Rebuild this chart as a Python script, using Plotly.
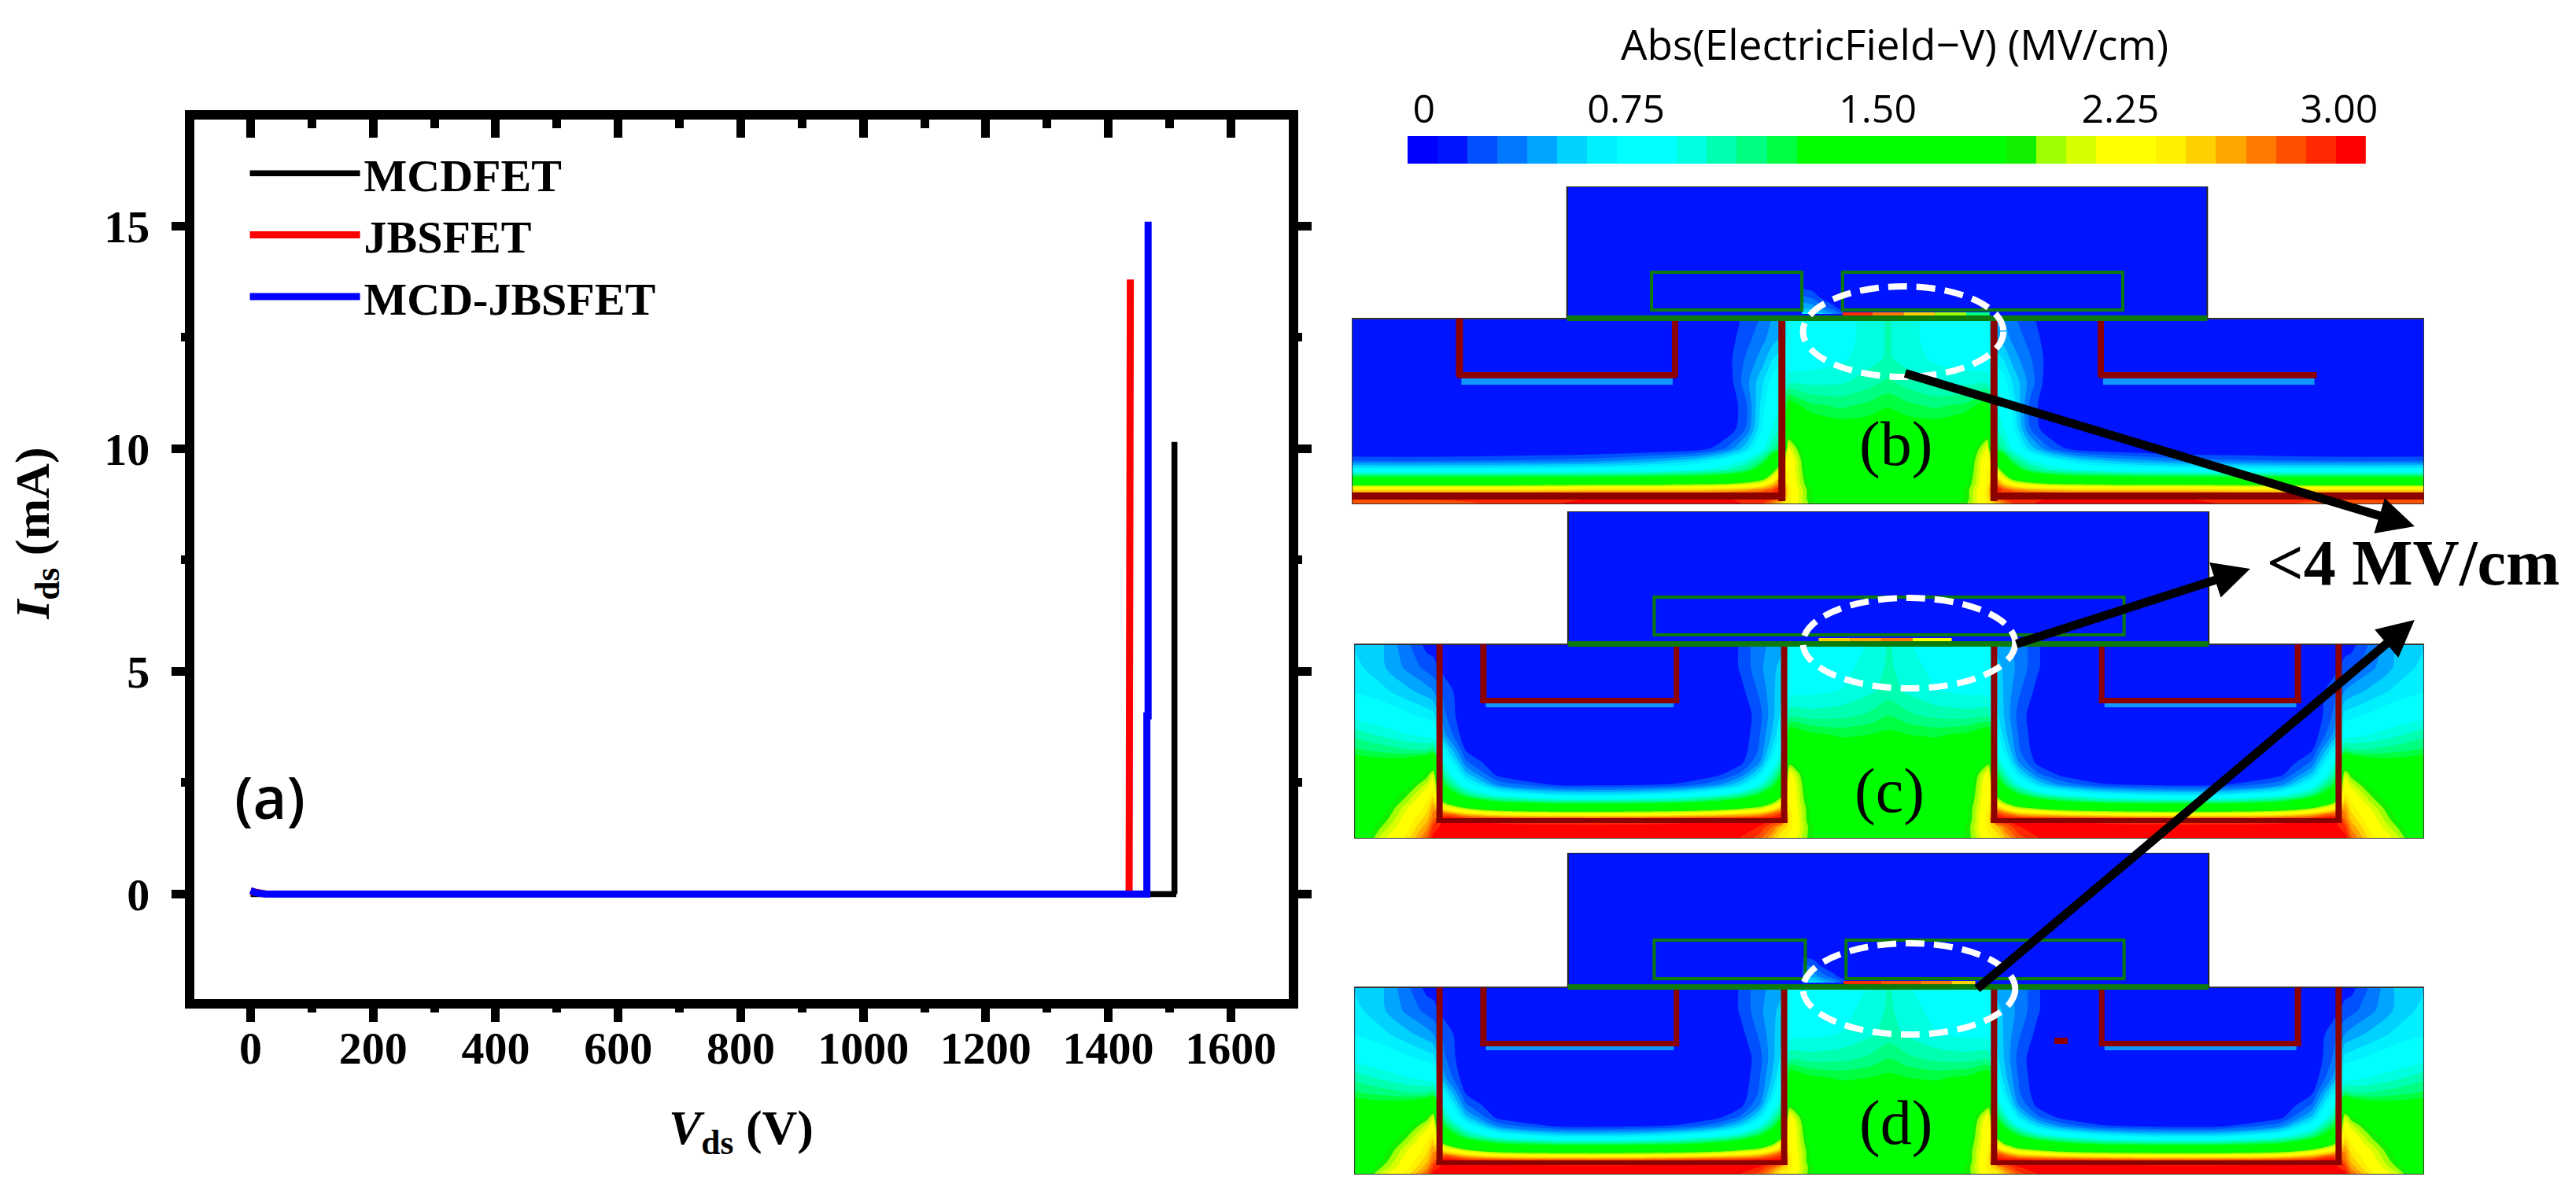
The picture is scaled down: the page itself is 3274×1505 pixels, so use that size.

# Breakdown curves of the three MOSFET variants next to their electric field maps.
import plotly.graph_objects as go

W = 3274
H = 1505
SERIF = "Liberation Serif"
SANS = "Open Sans"
FIELD_MAX = 3.0

# curves, panel (a)
VDS_MCDFET = [0, 1508, 1511, 1508, 1508]
IDS_MCDFET = [0, 0, 0, 0, 10.15]
VDS_JBSFET = [0, 8, 25, 1434, 1434, 1436, 1436]
IDS_JBSFET = [0.06, 0.03, 0, 0, 2.6, 2.6, 13.8]
VDS_MCD_JBSFET = [0, 8, 25, 1463, 1463, 1465, 1465]
IDS_MCD_JBSFET = [0.08, 0.03, 0, 0, 4.0, 4.0, 15.1]

# colour legend of the field maps, one colour per cell
CBAR_COLORS = ["#0000ff", "#0014ff", "#0050ff", "#0078ff", "#00a5ff", "#00d2ff", "#00f0ff", "#00ffff",
               "#00ffff", "#00ffe0", "#00ffb0", "#00ff80", "#00ff40", "#00ff00", "#00ff00", "#00ff00",
               "#00ff00", "#00ff00", "#00ff00", "#00ff00", "#10f000", "#a0ff00", "#d8ff00", "#ffff00",
               "#ffff00", "#fff000", "#ffd000", "#ffa500", "#ff7800", "#ff5000", "#ff2800", "#ff0000"]
CBAR_TICK_CELLS = [0.55, 7.3, 15.7, 23.8, 31.1]
CBAR_TICK_TEXT = ["0", "0.75", "1.50", "2.25", "3.00"]

# field in MV/cm, left half of the cell, right half is its mirror
B_OFFSET = [-685, -560, -480, -380, -300, -240, -205, -180, -160, -148, -137, -127, -100, -60, -25, 0]
B_DEPTH = [0, 25, 50, 80, 110, 140, 165, 180, 192, 202, 211, 218, 228, 236]
B_FIELD = [
    [.03, .03, .03, .03, .03, .04, .12, .22, .30, .38, .45, .70, .75, .80, .88, .95],
    [.03, .03, .03, .03, .03, .04, .14, .25, .35, .42, .48, .72, .76, .80, .88, .95],
    [.03, .03, .03, .03, .03, .04, .15, .30, .42, .55, .62, .75, .78, .82, .90, .95],
    [.03, .03, .03, .03, .03, .04, .12, .35, .55, .70, .78, .90, .90, .92, .98, 1.05],
    [.03, .03, .03, .03, .03, .04, .08, .28, .62, .78, .85, 1.3, 1.15, 1.1, 1.15, 1.2],
    [.03, .03, .03, .03, .03, .04, .10, .30, .68, .85, .95, 1.7, 1.4, 1.3, 1.3, 1.35],
    [.04, .04, .04, .05, .07, .12, .30, .55, .82, 1.0, 1.15, 2.2, 1.6, 1.45, 1.42, 1.4],
    [.25, .25, .28, .32, .42, .55, .72, .88, 1.1, 1.45, 1.8, 2.35, 1.7, 1.5, 1.45, 1.4],
    [.68, .68, .68, .72, .76, .85, .95, 1.1, 1.4, 1.8, 2.2, 2.35, 1.75, 1.5, 1.45, 1.45],
    [1.25, 1.25, 1.25, 1.25, 1.28, 1.32, 1.4, 1.55, 1.8, 2.15, 2.5, 2.35, 1.8, 1.55, 1.5, 1.45],
    [1.9, 1.9, 1.9, 1.95, 1.95, 2.0, 2.05, 2.15, 2.3, 2.5, 2.75, 2.35, 1.85, 1.55, 1.5, 1.5],
    [2.45, 2.45, 2.45, 2.5, 2.5, 2.5, 2.55, 2.6, 2.7, 2.8, 2.9, 2.4, 1.9, 1.55, 1.5, 1.5],
    [2.85, 2.85, 2.85, 2.9, 2.9, 2.9, 2.9, 2.9, 2.9, 2.85, 2.7, 2.4, 1.9, 1.6, 1.5, 1.5],
    [2.7, 2.75, 2.85, 2.95, 2.95, 2.95, 2.95, 2.9, 2.8, 2.6, 2.45, 2.35, 1.95, 1.6, 1.5, 1.5],
]

CD_OFFSET = [-683, -650, -615, -590, -582, -568, -540, -500, -420, -340, -270, -220, -190, -165, -148, -137,
             -127, -100, -60, -25, 0]
C_DEPTH = [0, 30, 60, 90, 115, 135, 150, 165, 178, 190, 200, 208, 215, 222, 232, 247]
D_DEPTH = [0, 30, 60, 90, 115, 135, 150, 165, 176, 188, 198, 206, 213, 220, 229, 238]
CD_FIELD = [
    [.55, .5, .3, .15, .15, .12, .08, .03, .03, .03, .03, .05, .2, .35, .4, .45, .7, .75, .78, .85, .95],
    [.6, .5, .35, .25, .22, .15, .08, .03, .03, .03, .03, .05, .2, .35, .45, .5, .72, .78, .8, .9, .95],
    [.65, .6, .5, .42, .38, .25, .1, .03, .03, .03, .03, .05, .15, .3, .45, .55, .8, .82, .85, .92, .98],
    [.8, .75, .68, .62, .6, .3, .08, .03, .03, .03, .03, .04, .1, .25, .45, .6, 1.0, .98, 1.0, 1.05, 1.12],
    [1.0, .92, .85, .8, .78, .4, .1, .03, .03, .03, .03, .04, .1, .28, .5, .7, 1.35, 1.25, 1.2, 1.22, 1.25],
    [1.15, 1.1, 1.05, 1.05, 1.1, .65, .18, .04, .03, .03, .03, .05, .12, .3, .6, .85, 1.65, 1.4, 1.32, 1.32, 1.32],
    [1.35, 1.3, 1.35, 1.5, 1.65, .85, .3, .08, .03, .03, .04, .07, .15, .38, .75, 1.0, 1.9, 1.5, 1.38, 1.35, 1.35],
    [1.45, 1.5, 1.65, 1.9, 2.1, 1.0, .5, .15, .04, .04, .08, .15, .3, .6, .95, 1.2, 2.25, 1.65, 1.45, 1.4, 1.4],
    [1.45, 1.55, 1.8, 2.1, 2.25, 1.2, .75, .35, .15, .15, .2, .35, .55, .85, 1.15, 1.5, 2.35, 1.7, 1.5, 1.45, 1.45],
    [1.5, 1.65, 1.95, 2.25, 2.4, 1.45, 1.05, .75, .55, .55, .65, .8, .95, 1.2, 1.5, 1.85, 2.35, 1.75, 1.55, 1.45, 1.45],
    [1.5, 1.7, 2.05, 2.35, 2.5, 1.9, 1.45, 1.2, 1.05, 1.05, 1.1, 1.25, 1.4, 1.6, 1.9, 2.2, 2.35, 1.8, 1.55, 1.5, 1.5],
    [1.5, 1.75, 2.15, 2.4, 2.6, 2.3, 1.95, 1.7, 1.6, 1.6, 1.65, 1.75, 1.9, 2.05, 2.3, 2.5, 2.35, 1.85, 1.6, 1.5, 1.5],
    [1.5, 1.8, 2.2, 2.45, 2.65, 2.7, 2.45, 2.25, 2.15, 2.15, 2.2, 2.3, 2.4, 2.5, 2.7, 2.8, 2.4, 1.85, 1.6, 1.5, 1.5],
    [1.55, 1.85, 2.25, 2.5, 2.7, 2.95, 2.9, 2.85, 2.8, 2.8, 2.85, 2.9, 2.9, 2.95, 2.95, 2.95, 2.4, 1.85, 1.6, 1.5, 1.5],
    [1.55, 1.95, 2.3, 2.6, 2.85, 2.95, 2.95, 2.95, 2.95, 2.95, 2.95, 2.95, 2.95, 2.9, 2.7, 2.5, 2.4, 1.9, 1.6, 1.5, 1.5],
    [1.6, 2.1, 2.4, 2.75, 2.95, 2.95, 2.95, 2.95, 2.95, 2.95, 2.95, 2.95, 2.9, 2.75, 2.5, 2.35, 2.3, 1.9, 1.65, 1.55, 1.5],
]

# leak of the field into the gap between the two gates
GAP_OFFSET = [-110, -96, -84, -70, -56]
GAP_DEPTH = [-62, -44, -28, -14, -6]
GAP_FIELD = [
    [.03, .03, .03, .03, .03],
    [.12, .10, .05, .03, .03],
    [.30, .25, .15, .08, .03],
    [.45, .42, .32, .22, .10],
    [.60, .60, .50, .40, .25],
]

# pixel frames of the panels: left, right, top, bottom, depth at top, depth at bottom
B_FRAME = [1718, 3087, 229, 633, -168, 236]
C_FRAME = [1721, 3087, 642, 1058, -169, 247]
D_FRAME = [1721, 3087, 1076, 1485, -171, 238]
BLOCK_SPAN = [-410, 408]

# walls and bars as offset0, offset1, depth0, depth1
WALL_RED = "#8c0000"
B_WALLS = [(-140, -131, 0, 232), (131, 140, 0, 232), (-685, -133, 221, 230), (133, 685, 221, 230),
           (-552, -543, 0, 74), (-276, -268, 0, 74), (-550, -270, 68, 76),
           (268, 276, 0, 74), (270, 548, 68, 76)]
C_WALLS = [(-578, -570, 0, 227), (-138, -130, 0, 227), (130, 138, 0, 227), (570, 578, 0, 227),
           (-578, -130, 221, 227), (130, 578, 221, 227),
           (-522, -514, 0, 74), (-275, -268, 0, 74), (-522, -268, 68, 75),
           (268, 275, 0, 74), (518, 526, 0, 74), (268, 526, 68, 75)]
D_WALLS = [(-578, -570, 0, 226), (-138, -130, 0, 226), (130, 138, 0, 226), (570, 578, 0, 226),
           (-578, -130, 220, 226), (130, 578, 220, 226),
           (-522, -514, 0, 74), (-275, -268, 0, 74), (-522, -268, 68, 75),
           (268, 275, 0, 74), (518, 526, 0, 74), (268, 526, 68, 75),
           (211, 228, 64, 72)]
B_GLOW = [(-545, -275, 76, 84), (275, 545, 76, 84)]
CD_GLOW = [(-515, -275, 75, 80), (275, 520, 75, 80)]

# gates as offset0, offset1, depth0, depth1
B_GATES = [(-302, -110, -59, -11), (-58, 300, -59, -11)]
C_GATES = [(-300, 300, -60, -12)]
D_GATES = [(-300, -107, -60, -11), (-55, 300, -60, -11)]

# hot strip under the gate as offset0, offset1, colour
B_HOT = [(-58, -20, "#ff2800"), (-20, 20, "#ff7800"), (20, 60, "#ffd000"), (60, 100, "#a0ff00"), (100, 130, "#00ff80")]
C_HOT = [(-90, -50, "#ffd000"), (-50, -10, "#ffa500"), (-10, 30, "#ff7800"), (30, 80, "#ffff00")]
D_HOT = [(-58, -10, "#ff2800"), (-10, 40, "#ff5000"), (40, 80, "#ff7800"), (80, 110, "#ffd000")]

# marked ellipses and arrows in page pixels
ELLIPSES = [(2294, 2550, 356, 471), (2294, 2565, 752, 867), (2294, 2565, 1191, 1307)]
ARROW_TAILS = [(2423, 466), (2565, 811), (2515, 1250)]
ARROW_HEADS = [(3075, 661), (2865, 715), (3075, 780)]


def dom_x(p0, p1):
    return [p0 / W, p1 / W]


def dom_y(p0, p1):
    return [1 - p1 / H, 1 - p0 / H]


def mirror_row(row):
    return row + row[-2::-1]


def mirror_offset(offset):
    return offset + [-v for v in offset[-2::-1]]


def stepped_scale(colors):
    scale = []
    for i, c in enumerate(colors):
        scale.append([i / len(colors), c])
        scale.append([(i + 1) / len(colors), c])
    return scale


# bulk of the maps sits on the second cell colour
FIELD_SCALE = stepped_scale([CBAR_COLORS[1]] + CBAR_COLORS[1:])
BIN = FIELD_MAX / len(CBAR_COLORS)


def field_trace(x, y, z, xa, ya):
    return go.Contour(x=x, y=y, z=z, xaxis=xa, yaxis=ya, zmin=0, zmax=FIELD_MAX, colorscale=FIELD_SCALE,
                      showscale=False, hoverinfo="skip", line=dict(width=0, smoothing=0.8),
                      contours=dict(coloring="fill", showlines=False, start=BIN, end=FIELD_MAX - BIN, size=BIN))


def rect(xa, ya, x0, x1, y0, y1, fill=None, line=None, width=0, layer="above"):
    s = dict(type="rect", xref=xa, yref=ya, x0=x0, x1=x1, y0=y0, y1=y1, layer=layer)
    s["fillcolor"] = fill if fill else "rgba(0,0,0,0)"
    s["line"] = dict(color=line if line else "rgba(0,0,0,0)", width=width)
    return s


def panel_marks(xa, ya, frame, offset_min, walls, glow, gates, hot):
    shapes = [rect(xa, ya, offset_min, -offset_min, 0, frame[5], line="#333333", width=2)]
    for u0, u1, d0, d1 in glow:
        shapes.append(rect(xa, ya, u0, u1, d0, d1, fill="#0f96ff"))
    for u0, u1, d0, d1 in walls:
        shapes.append(rect(xa, ya, u0, u1, d0, d1, fill=WALL_RED))
    for u0, u1, d0, d1 in gates:
        shapes.append(rect(xa, ya, u0, u1, d0, d1, line="#0c7a0c", width=4))
    for u0, u1, color in hot:
        shapes.append(rect(xa, ya, u0, u1, -8, -3, fill=color))
    shapes.append(rect(xa, ya, BLOCK_SPAN[0], BLOCK_SPAN[1], -4, 3, fill="#0c7a0c"))
    return shapes


def hidden_axis(domain, rng, anchor):
    return dict(domain=domain, range=rng, anchor=anchor, visible=False, fixedrange=True)


fig = go.Figure()

fig.add_trace(go.Scatter(x=VDS_MCDFET, y=IDS_MCDFET, mode="lines", name="MCDFET", line=dict(color="#000000", width=7.5)))
fig.add_trace(go.Scatter(x=VDS_JBSFET, y=IDS_JBSFET, mode="lines", name="JBSFET", line=dict(color="#ff0000", width=9)))
fig.add_trace(go.Scatter(x=VDS_MCD_JBSFET, y=IDS_MCD_JBSFET, mode="lines", name="MCD-JBSFET", line=dict(color="#0000ff", width=9)))
# extra axes only carry the ticks on the top and right edges
fig.add_trace(go.Scatter(x=[0], y=[0], xaxis="x2", yaxis="y8", mode="lines", showlegend=False, hoverinfo="skip",
                         line=dict(color="rgba(0,0,0,0)")))

# colour legend
cells = [i + 0.5 for i in range(len(CBAR_COLORS))]
fig.add_trace(go.Heatmap(x=cells, y=[0], z=[list(range(len(CBAR_COLORS)))], xaxis="x3", yaxis="y3", zmin=-0.5,
                         zmax=len(CBAR_COLORS) - 0.5, colorscale=stepped_scale(CBAR_COLORS), showscale=False,
                         hoverinfo="skip"))

fig.add_trace(field_trace(mirror_offset(B_OFFSET), B_DEPTH, [mirror_row(r) for r in B_FIELD], "x4", "y4"))
fig.add_trace(field_trace(GAP_OFFSET, GAP_DEPTH, GAP_FIELD, "x4", "y4"))
fig.add_trace(field_trace(mirror_offset(CD_OFFSET), C_DEPTH, [mirror_row(r) for r in CD_FIELD], "x5", "y5"))
fig.add_trace(field_trace(mirror_offset(CD_OFFSET), D_DEPTH, [mirror_row(r) for r in CD_FIELD], "x6", "y6"))
fig.add_trace(field_trace(GAP_OFFSET, GAP_DEPTH, GAP_FIELD, "x6", "y6"))
fig.add_trace(go.Scatter(x=[0], y=[0], xaxis="x7", yaxis="y7", mode="lines", showlegend=False, hoverinfo="skip",
                         line=dict(color="rgba(0,0,0,0)")))

# the oxide blocks go under the traces so the gap leak stays visible
shapes = []
for xa, ya, frame in [("x4", "y4", B_FRAME), ("x5", "y5", C_FRAME), ("x6", "y6", D_FRAME)]:
    shapes.append(rect(xa, ya, BLOCK_SPAN[0], BLOCK_SPAN[1], frame[4], 0, fill=CBAR_COLORS[1], line="#222222", width=2, layer="below"))
shapes += panel_marks("x4", "y4", B_FRAME, -685, B_WALLS, B_GLOW, B_GATES, B_HOT)
shapes += panel_marks("x5", "y5", C_FRAME, -683, C_WALLS, CD_GLOW, C_GATES, C_HOT)
shapes += panel_marks("x6", "y6", D_FRAME, -683, D_WALLS, CD_GLOW, D_GATES, D_HOT)
for x0, x1, y0, y1 in ELLIPSES:
    shapes.append(dict(type="circle", xref="x7", yref="y7", x0=x0, x1=x1, y0=y0, y1=y1, layer="above",
                       line=dict(color="#ffffff", width=8, dash="24px,12px")))

annotations = [
    dict(text="Abs(ElectricField\u2212V) (MV/cm)", x=2411, y=47, font=dict(family=SANS, size=53, color="#000000")),
    dict(text="(a)", x=337, y=1004, font=dict(family=SANS, size=74, color="#000000", weight=600)),
    dict(text="(b)", x=2413, y=556, font=dict(family=SERIF, size=80, color="#000000")),
    dict(text="(c)", x=2405, y=997, font=dict(family=SERIF, size=80, color="#000000")),
    dict(text="(d)", x=2413, y=1419, font=dict(family=SERIF, size=80, color="#000000")),
    dict(text="<b>&lt;4 MV/cm</b>", x=3073, y=707, font=dict(family=SERIF, size=82, color="#000000")),
    dict(text="<b><i>V</i><sub>ds</sub> (V)</b>", x=938, y=1429, font=dict(family=SERIF, size=62, color="#000000")),
    dict(text="<b><i>I</i><sub>ds</sub> (mA)</b>", x=37, y=670, textangle=-90, font=dict(family=SERIF, size=62, color="#000000")),
]
for a in annotations:
    a.update(xref="x7", yref="y7", showarrow=False, xanchor="center", yanchor="middle")
for (tx, ty), (hx, hy) in zip(ARROW_TAILS, ARROW_HEADS):
    annotations.append(dict(x=hx, y=hy, ax=tx, ay=ty, xref="x7", yref="y7", axref="x7", ayref="y7", text="",
                            showarrow=True, arrowhead=2, arrowsize=0.85, arrowwidth=11, arrowcolor="#000000"))

tick_font = dict(family=SERIF, size=58, color="#000000", weight="bold")
tick_style = dict(linecolor="#000000", linewidth=12, tickcolor="#000000", tickwidth=11, showgrid=False,
                  zeroline=False, fixedrange=True)
minor_out = dict(ticks="outside", ticklen=5, tickwidth=11, tickcolor="#000000")
# inside ticks start under the axis line, so they need to be longer
minor_in = dict(ticks="inside", ticklen=11, tickwidth=11, tickcolor="#000000")

fig.update_layout(
    width=W, height=H, margin=dict(l=0, r=0, t=0, b=0), paper_bgcolor="#ffffff", plot_bgcolor="rgba(0,0,0,0)",
    showlegend=True,
    legend=dict(x=306 / W, y=1 - 168 / H, xanchor="left", yanchor="top", bgcolor="rgba(0,0,0,0)", itemwidth=140,
                font=dict(family=SERIF, size=58, color="#000000", weight="bold")),
    xaxis=dict(domain=dom_x(240, 1637), range=[-92, 1694], anchor="y", tick0=0, dtick=200, ticks="outside", ticklen=17,
               tickfont=tick_font, ticklabelstandoff=-17, minor=dict(tick0=0, dtick=100, **minor_out), **tick_style),
    xaxis2=dict(domain=dom_x(240, 1637), range=[-92, 1694], anchor="y8", overlaying="x", side="top", tick0=0, dtick=200,
                ticks="inside", ticklen=23, showticklabels=False, minor=dict(tick0=0, dtick=100, **minor_in), **tick_style),
    yaxis=dict(domain=dom_y(144, 1262), range=[-2.36, 17.39], anchor="x", tick0=0, dtick=5, ticks="outside", ticklen=17,
               tickfont=tick_font, ticklabelstandoff=16, minor=dict(tick0=0, dtick=2.5, **minor_out), **tick_style),
    yaxis8=dict(domain=dom_y(144, 1262), range=[-2.36, 17.39], anchor="x2", overlaying="y", side="right", tick0=0, dtick=5,
                ticks="outside", ticklen=17, showticklabels=False, minor=dict(tick0=0, dtick=2.5, **minor_out), **tick_style),
    xaxis3=dict(domain=dom_x(1789, 3013), range=[0, len(CBAR_COLORS)], anchor="y3", side="top", tickmode="array",
                tickvals=CBAR_TICK_CELLS, ticktext=CBAR_TICK_TEXT, ticks="", showgrid=False, zeroline=False, showline=False,
                fixedrange=True, ticklabelstandoff=6, tickfont=dict(family=SANS, size=50, color="#000000")),
    yaxis3=hidden_axis(dom_y(165, 200), [-0.5, 0.5], "x3"),
    xaxis4=hidden_axis(dom_x(B_FRAME[0], B_FRAME[1]), [-685, 685], "y4"),
    yaxis4=hidden_axis(dom_y(B_FRAME[2], B_FRAME[3]), [B_FRAME[5], B_FRAME[4]], "x4"),
    xaxis5=hidden_axis(dom_x(C_FRAME[0], C_FRAME[1]), [-683, 683], "y5"),
    yaxis5=hidden_axis(dom_y(C_FRAME[2], C_FRAME[3]), [C_FRAME[5], C_FRAME[4]], "x5"),
    xaxis6=hidden_axis(dom_x(D_FRAME[0], D_FRAME[1]), [-683, 683], "y6"),
    yaxis6=hidden_axis(dom_y(D_FRAME[2], D_FRAME[3]), [D_FRAME[5], D_FRAME[4]], "x6"),
    xaxis7=hidden_axis([0, 1], [0, W], "y7"),
    yaxis7=hidden_axis([0, 1], [H, 0], "x7"),
    shapes=shapes,
    annotations=annotations,
)

fig.write_html("out.html")
